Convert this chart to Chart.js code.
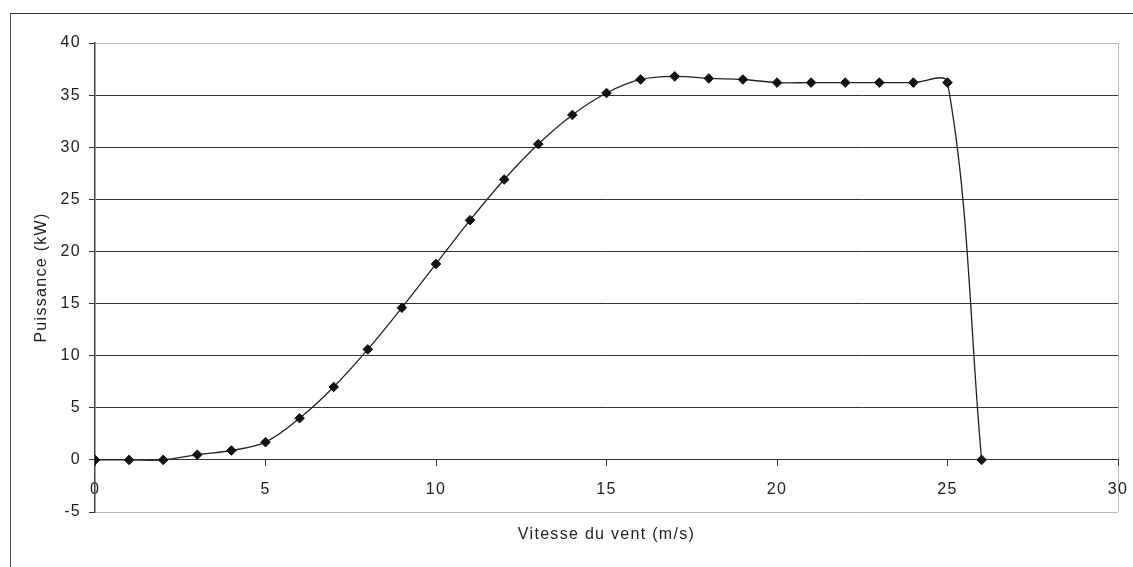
<!DOCTYPE html>
<html>
<head>
<meta charset="utf-8">
<script src="https://cdn.jsdelivr.net/npm/chart.js@4/dist/chart.umd.min.js"></script>
<style>
  html, body { margin: 0; padding: 0; background: #fff; }
  #wrap { position: relative; width: 1133px; height: 567px; overflow: hidden; }
  #frame { position: absolute; left: 10px; top: 13px; width: 1200px; height: 600px;
           border-top: 1px solid #333; border-left: 1px solid #555; box-sizing: border-box; }
  canvas { position: absolute; left: 0; top: 0; }
</style>
</head>
<body>
<div id="wrap">
  <div id="frame"></div>
  <canvas id="c" width="1133" height="567"></canvas>
</div>
<script>
// Wind speed (m/s)
const speeds = [0,1,2,3,4,5,6,7,8,9,10,11,12,13,14,15,16,17,18,19,20,21,22,23,24,25,26];
// Power (kW)
const power  = [0,0,0,0.5,0.9,1.7,4.0,7.0,10.6,14.6,18.8,23.0,26.9,30.3,33.1,35.2,36.5,36.8,36.6,36.5,36.2,36.2,36.2,36.2,36.2,36.2,0];
const xTicks = [0,5,10,15,20,25,30];
const yTicks = [-5,0,5,10,15,20,25,30,35,40];
const xTitle = 'Vitesse du vent (m/s)';
const yTitle = 'Puissance (kW)';

const FONT = "'Liberation Sans', Arial, sans-serif";
const points = speeds.map((s, i) => ({ x: s, y: power[i] }));

const spacing = {
  id: 'spacing',
  beforeInit(chart) { chart.ctx.letterSpacing = '1.3px'; },
  beforeLayout(chart) { chart.ctx.letterSpacing = '1.3px'; },
  beforeDraw(chart) { chart.ctx.letterSpacing = '1.3px'; }
};

new Chart(document.getElementById('c'), {
  type: 'line',
  plugins: [spacing],
  data: {
    datasets: [{
      data: points,
      borderColor: '#222',
      borderWidth: 1.3,
      tension: 0.35,
      pointStyle: 'rectRot',
      pointRadius: 4.8,
      pointBackgroundColor: '#111',
      pointBorderColor: '#111',
      pointBorderWidth: 1,
      fill: false
    }]
  },
  options: {
    responsive: false,
    animation: false,
    events: [],
    layout: { padding: { left: 0, top: 43, right: 15, bottom: 55 } },
    plugins: { legend: { display: false }, tooltip: { enabled: false } },
    scales: {
      x: {
        type: 'linear',
        position: { y: 0 },
        min: xTicks[0], max: xTicks[xTicks.length - 1],
        afterBuildTicks: (s) => { s.ticks = xTicks.map(v => ({ value: v })); },
        afterFit: (s) => { s.paddingLeft = 0; s.paddingRight = 0; },
        ticks: { color: '#222', font: { family: FONT, size: 16 }, padding: 14, maxRotation: 0, autoSkip: false },
        grid: {
          color: (ctx) => (ctx.tick && ctx.tick.value === 30) ? '#b8b8b8' : 'rgba(0,0,0,0)',
          tickColor: '#333', tickLength: 6, lineWidth: 1
        },
        border: { display: true, color: '#333', width: 1 },
        title: { display: true, text: xTitle, color: '#222', font: { family: FONT, size: 16 }, padding: { top: 12, bottom: 0 } }
      },
      y: {
        type: 'linear',
        min: yTicks[0], max: yTicks[yTicks.length - 1],
        afterBuildTicks: (s) => { s.ticks = yTicks.map(v => ({ value: v })); },
        afterFit: (s) => { s.width = 95; s.paddingTop = 0; s.paddingBottom = 0; },
        ticks: { color: '#222', font: { family: FONT, size: 16 }, padding: 8 },
        grid: {
          color: (ctx) => (ctx.tick && (ctx.tick.value === -5 || ctx.tick.value === 40)) ? '#b8b8b8' : '#333',
          tickColor: '#333', tickLength: 6, lineWidth: 1
        },
        border: { display: true, color: '#444', width: 1.5 },
        title: { display: true, text: yTitle, color: '#222', font: { family: FONT, size: 16 }, padding: { top: 32, bottom: 0 } }
      }
    }
  }
});
</script>
</body>
</html>
